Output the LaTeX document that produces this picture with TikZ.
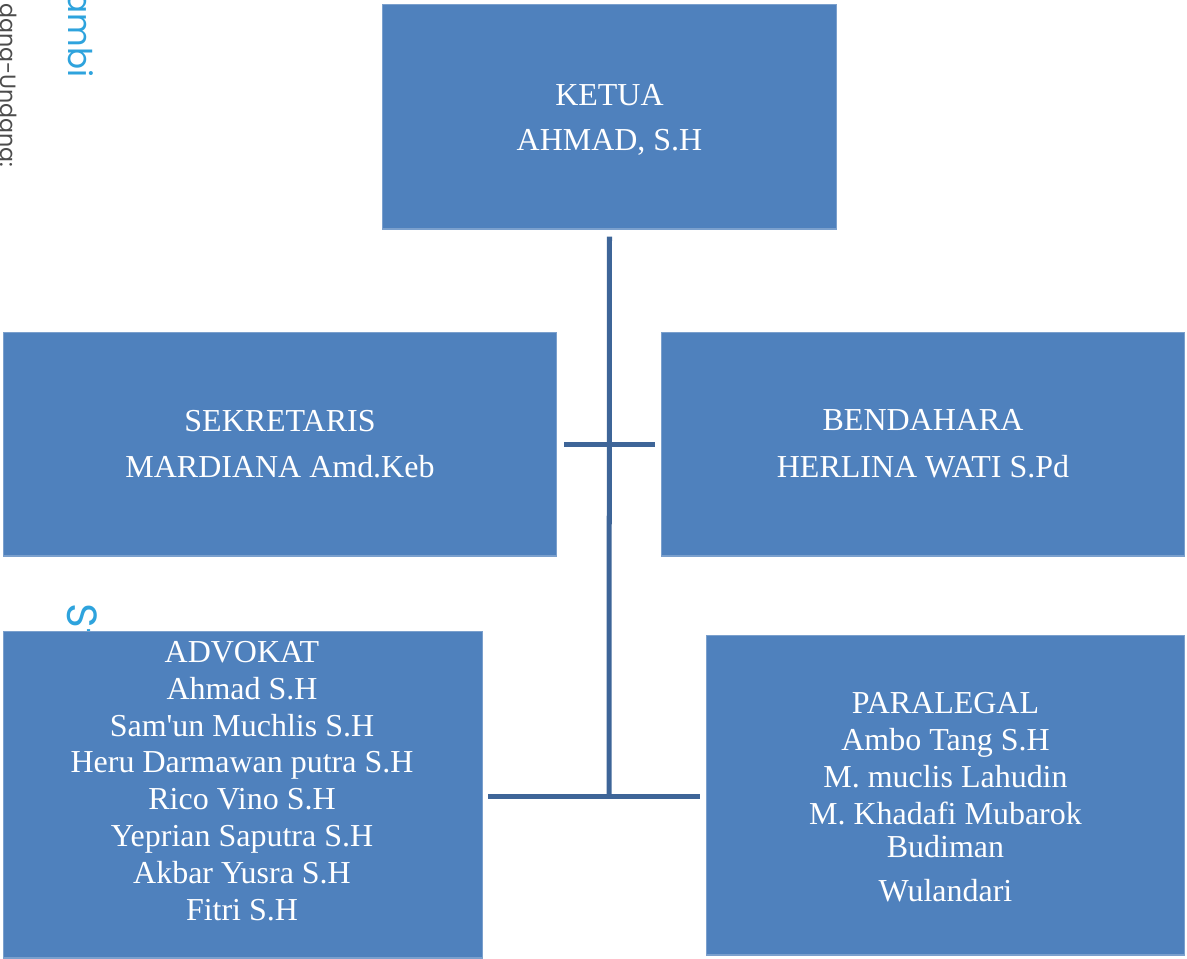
\documentclass[tikz,border=0pt]{standalone}
\usepackage{fontspec}
\setmainfont{Liberation Serif}
\newfontfamily\markfont{Poppins}
\definecolor{boxblue}{RGB}{79,129,189}
\definecolor{linkblue}{RGB}{62,101,152}
\definecolor{markblue}{RGB}{46,163,221}
\begin{document}
\begin{tikzpicture}[x=0.02cm, y=-0.02cm,
    box/.style={rectangle, fill=boxblue, draw=boxblue!75!white, line width=0.6pt,
        inner sep=0pt, text=white, align=center,
        font=\fontsize{18.2}{21}\selectfont},
    boxtext/.style={text=white, align=center, inner sep=0pt,
        font=\fontsize{18.2}{21}\selectfont},
    link/.style={linkblue, line width=2.85pt},
    wmark/.style={rotate=-90, inner sep=0pt}]
    \clip (0, 0) rectangle (1187, 958);

    % Watermark left over on the page edge
    \node[wmark, anchor=base west, text=black!70, font=\markfont\fontsize{12.6}{15}\selectfont] (markleft) at (1, 3) {dana-Undana:};
    \node[wmark, anchor=base east, text=markblue, font=\markfont\fontsize{18.6}{22}\selectfont] (markblue) at (68, 78) {ambi};
    \node[wmark, anchor=base west, text=markblue, font=\markfont\fontsize{24}{28}\selectfont] (markst) at (67, 603) {St};

    % Top of the chart
    \node[box, minimum width=9.1cm, minimum height=4.5cm] (ketua) at (609.5, 116.5) {};
    \node[boxtext] (ketuatext) at (609.5, 120) {KETUA\\[5pt] AHMAD, S.H};

    % Second row
    \node[box, minimum width=11.08cm, minimum height=4.48cm] (sekretaris) at (280, 444) {SEKRETARIS\\[5.6pt] MARDIANA Amd.Keb};
    \node[box, minimum width=10.48cm, minimum height=4.48cm] (bendahara) at (923, 444) {BENDAHARA\\[5.6pt] HERLINA WATI S.Pd};

    % Third row
    \node[box, minimum width=9.6cm, minimum height=6.54cm] (advokat) at (243, 794.5) {};
    \node[boxtext] (advokattext) at (242, 781) {ADVOKAT\\ Ahmad S.H\\ Sam\textquotesingle un Muchlis S.H\\ Heru Darmawan putra S.H\\ Rico Vino S.H\\ Yeprian Saputra S.H\\ Akbar Yusra S.H\\ Fitri S.H};
    \node[box, minimum width=9.58cm, minimum height=6.4cm] (paralegal) at (945.5, 795) {};
    \node[boxtext] (paralegaltext) at (945.5, 797) {PARALEGAL\\ Ambo Tang S.H\\ M. muclis Lahudin\\ M. Khadafi Mubarok\\[-2.3pt] Budiman\\[4pt] Wulandari};

    % Connectors
    \coordinate (junc) at (609, 796);
    \draw[link, shorten <=0.14cm] (ketua.south) -- (junc);
    \draw[link, shorten <=0.14cm, shorten >=0.12cm] (sekretaris.east) -- (bendahara.west);
    \draw[link, shorten <=0.1cm] (advokat.east |- junc) -- (junc);
    \draw[link, shorten >=0.12cm] (junc) -- (paralegal.west |- junc);
\end{tikzpicture}
\end{document}
